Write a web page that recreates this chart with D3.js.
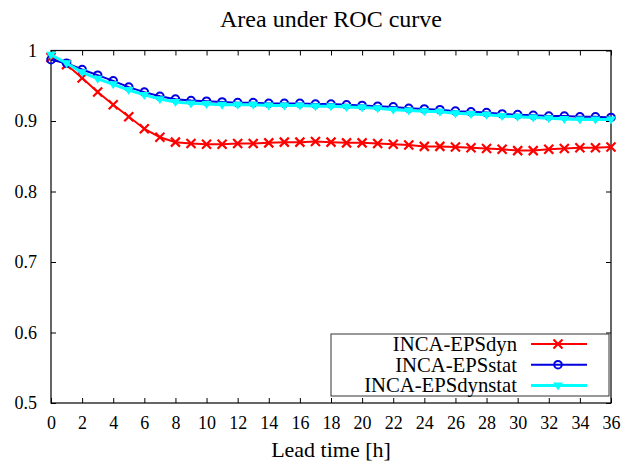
<!DOCTYPE html>
<html>
<head>
<meta charset="utf-8">
<script src="https://cdn.jsdelivr.net/npm/d3@7"></script>
<style>
  body { margin: 0; background: #fff; }
  svg { display: block; }
</style>
</head>
<body>
<svg id="chart" width="633" height="468"></svg>
<script>
// lead time in hours, one point per hour
var hours = d3.range(0, 37);

var aucDyn = [0.990, 0.980, 0.961, 0.941, 0.923, 0.906, 0.889, 0.877, 0.870, 0.868,
  0.867, 0.867, 0.868, 0.868, 0.869, 0.870, 0.870, 0.871, 0.870, 0.869,
  0.869, 0.868, 0.867, 0.866, 0.864, 0.864, 0.863, 0.862, 0.861, 0.860,
  0.858, 0.858, 0.860, 0.861, 0.862, 0.862, 0.863];

var aucStat = [0.987, 0.982, 0.973, 0.965, 0.957, 0.948, 0.941, 0.935, 0.931, 0.929,
  0.928, 0.927, 0.926, 0.926, 0.925, 0.925, 0.925, 0.924, 0.924, 0.923,
  0.922, 0.921, 0.920, 0.918, 0.917, 0.916, 0.914, 0.913, 0.912, 0.910,
  0.909, 0.908, 0.907, 0.907, 0.906, 0.906, 0.905];

var aucDynStat = [0.994, 0.982, 0.969, 0.960, 0.952, 0.944, 0.937, 0.931, 0.927, 0.925,
  0.924, 0.923, 0.923, 0.923, 0.922, 0.922, 0.922, 0.921, 0.921, 0.920,
  0.919, 0.918, 0.916, 0.915, 0.914, 0.913, 0.911, 0.910, 0.909, 0.907,
  0.906, 0.905, 0.904, 0.903, 0.902, 0.902, 0.902];

var seriesNames = ["INCA-EPSdyn", "INCA-EPSstat", "INCA-EPSdynstat"];
var xTicks = d3.range(0, 37, 2);
var yTicks = [0.5, 0.6, 0.7, 0.8, 0.9, 1];

var series = [
  { name: seriesNames[0], values: aucDyn, color: "#ff0000", marker: "cross", width: 2 },
  { name: seriesNames[1], values: aucStat, color: "#0000e0", marker: "circle", width: 2 },
  { name: seriesNames[2], values: aucDynStat, color: "#00ffff", marker: "tri", width: 3 }
];

var svg = d3.select("#chart");
var margin = { left: 51, right: 22, top: 50.5, bottom: 65 };
var W = 633, H = 468;
var serif = "Liberation Serif";

var x = d3.scaleLinear().domain([0, 36]).range([margin.left, W - margin.right]);
var y = d3.scaleLinear().domain([0.5, 1]).range([H - margin.bottom, margin.top]);

// title
svg.append("text")
  .attr("x", 331).attr("y", 27)
  .attr("text-anchor", "middle")
  .attr("font-family", serif)
  .attr("font-size", 24)
  .text("Area under ROC curve");

// axes, ticks pointing inwards, mirrored on top and right
var tk = 5;
svg.append("g").attr("transform", "translate(0," + y(0.5) + ")")
  .call(d3.axisBottom(x).tickValues(xTicks).tickSize(-tk).tickPadding(13).tickFormat(d3.format("d")))
  .call(function(g){ g.select(".domain").remove(); });
svg.append("g").attr("transform", "translate(0," + y(1) + ")")
  .call(d3.axisTop(x).tickValues(xTicks).tickSize(-tk).tickFormat(""))
  .call(function(g){ g.select(".domain").remove(); });
svg.append("g").attr("transform", "translate(" + x(0) + ",0)")
  .call(d3.axisLeft(y).tickValues(yTicks).tickSize(-tk).tickPadding(14).tickFormat(function(d){ return d === 1 ? "1" : d3.format(".1f")(d); }))
  .call(function(g){ g.select(".domain").remove(); });
svg.append("g").attr("transform", "translate(" + x(36) + ",0)")
  .call(d3.axisRight(y).tickValues(yTicks).tickSize(-tk).tickFormat(""))
  .call(function(g){ g.select(".domain").remove(); });

svg.selectAll("g").attr("font-family", serif).attr("font-size", 18);
svg.selectAll(".tick line").attr("stroke", "#000").attr("stroke-width", 1);
svg.selectAll(".tick text").attr("fill", "#000");

svg.append("rect")
  .attr("x", x(0)).attr("y", y(1))
  .attr("width", x(36) - x(0)).attr("height", y(0.5) - y(1))
  .attr("fill", "none").attr("stroke", "#000").attr("stroke-width", 1.2);

// x label
svg.append("text")
  .attr("x", 331).attr("y", 457)
  .attr("text-anchor", "middle")
  .attr("font-family", serif)
  .attr("font-size", 22)
  .text("Lead time [h]");

function drawMarker(g, type, color, cx, cy) {
  if (type === "cross") {
    g.append("path")
      .attr("d", "M" + (cx - 4.5) + "," + (cy - 4.5) + "L" + (cx + 4.5) + "," + (cy + 4.5) +
                 "M" + (cx - 4.5) + "," + (cy + 4.5) + "L" + (cx + 4.5) + "," + (cy - 4.5))
      .attr("stroke", color).attr("stroke-width", 2.2).attr("fill", "none");
  } else if (type === "circle") {
    g.append("circle").attr("cx", cx).attr("cy", cy).attr("r", 3.8)
      .attr("stroke", color).attr("stroke-width", 2).attr("fill", "none");
  } else {
    g.append("path")
      .attr("d", "M" + (cx - 5) + "," + (cy - 3) + "L" + (cx + 5) + "," + (cy - 3) + "L" + cx + "," + (cy + 5) + "Z")
      .attr("fill", color);
  }
}

var line = d3.line()
  .x(function(d, i){ return x(hours[i]); })
  .y(function(d){ return y(d); });

var plot = svg.append("g");
series.forEach(function(s){
  var g = plot.append("g");
  g.append("path")
    .attr("d", line(s.values))
    .attr("fill", "none")
    .attr("stroke", s.color)
    .attr("stroke-width", s.width);
  s.values.forEach(function(v, i){
    drawMarker(g, s.marker, s.color, x(hours[i]), y(v));
  });
});

// legend
var leg = svg.append("g");
leg.append("rect")
  .attr("x", 331).attr("y", 334).attr("width", 278).attr("height", 62)
  .attr("fill", "#fff").attr("stroke", "#333").attr("stroke-width", 1);
series.forEach(function(s, i){
  var cy = 344 + i * 20.7;
  leg.append("text")
    .attr("x", 517).attr("y", cy + 7)
    .attr("text-anchor", "end")
    .attr("font-family", serif)
    .attr("font-size", 20.7)
    .text(s.name);
  leg.append("line")
    .attr("x1", 531).attr("x2", 587).attr("y1", cy).attr("y2", cy)
    .attr("stroke", s.color).attr("stroke-width", s.width);
  drawMarker(leg, s.marker, s.color, 558, cy);
});
// bottom axis ticks cross the legend box in the original
svg.selectAll(".tick line").raise();
</script>
</body>
</html>
